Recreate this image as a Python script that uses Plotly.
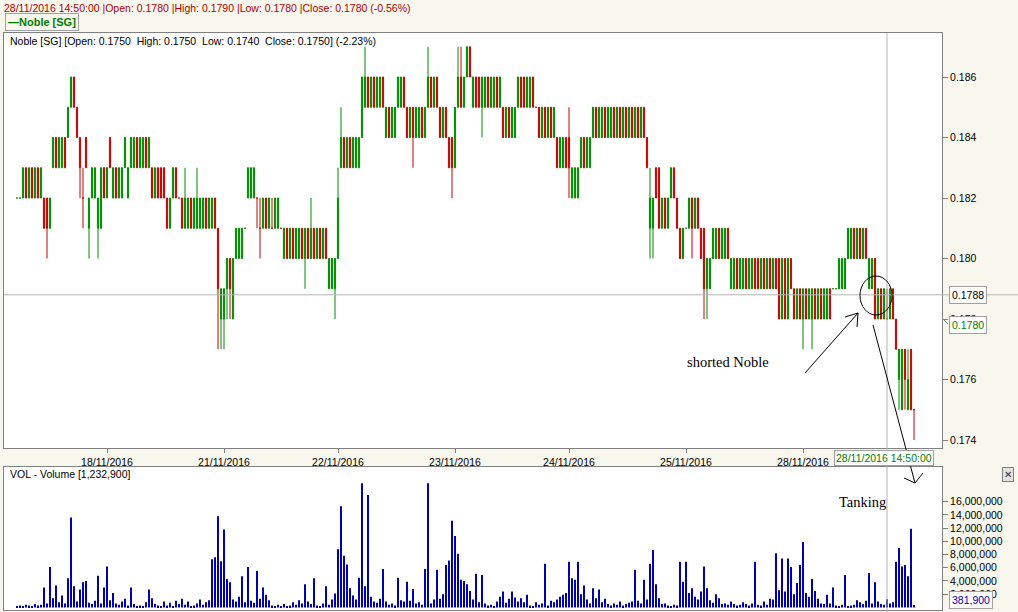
import plotly.graph_objects as go

# ---------------- data (prices in thousandths of SGD, volume in millions) ----------------
open_m = [
182,182,182,183,182,183,182,183,182,182, 182,181,183,184,183,183,184,184,185,186,
185,184,182,184,181,182,182,181,181,183, 182,184,182,183,182,182,183,182,183,183,
184,183,183,184,183,183,182,183,183,183, 182,181,182,183,182,182,181,181,182,181,
181,181,181,182,181,181,182,181,178,178, 179,180,178,180,180,180,181,182,182,182,
182,181,181,182,181,181,181,181,181,180, 181,180,181,180,180,181,180,181,180,181,
180,181,180,181,179,179,179,180,183,184, 183,184,183,183,183,184,185,186,185,186,
185,185,186,184,185,184,184,185,185,186, 185,184,185,184,184,185,184,185,186,185,
186,185,184,185,184,184,183,185,186,185, 186,187,185,186,186,185,185,186,185,185,
186,185,185,184,185,184,184,185,186,186, 185,185,186,185,185,184,185,184,185,184,
184,183,183,184,184,182,182,182,183,184, 183,183,184,185,184,184,185,184,184,185,
184,185,184,185,184,185,184,185,184,185, 184,181,181,183,183,181,182,181,182,183,
182,181,180,181,181,182,181,182,181,181, 179,179,180,180,181,180,180,181,179,179,
180,179,179,180,179,179,180,180,179,180, 179,180,179,180,180,178,180,178,180,179,
178,179,178,179,178,178,179,178,179,178, 178,179,179,179,179,179,179,180,180,181,
180,181,180,181,179,179,180,178,179,178, 178,178,179,178,176,175,177,175,177,175,
]
high_m = [
182,182,183,183,183,183,183,183,183,182, 182,182,184,184,184,184,184,185,186,186,
185,184,183,184,182,183,183,182,183,183, 183,184,183,183,183,183,184,183,184,184,
184,184,184,184,184,183,183,183,183,183, 182,182,183,183,182,182,183,182,182,182,
183,182,182,182,182,182,182,181,179,179, 180,180,180,181,181,181,181,183,183,183,
182,182,182,182,182,182,182,182,181,181, 181,181,181,181,181,181,181,181,182,181,
181,181,181,181,180,180,180,183,185,184, 184,184,184,184,184,186,187,186,186,186,
186,186,186,185,185,185,185,186,186,186, 185,185,185,185,185,185,185,187,186,186,
186,185,185,185,184,184,185,187,187,186, 187,187,186,186,186,186,186,186,186,186,
186,186,185,185,185,185,185,186,186,186, 186,186,186,185,185,185,185,185,185,185,
184,184,184,184,185,183,183,183,184,184, 184,184,185,185,185,185,185,185,185,185,
185,185,185,185,185,185,185,185,185,185, 184,183,182,183,183,182,182,182,183,183,
182,181,181,181,182,182,182,182,181,181, 180,180,181,181,181,181,181,181,180,180,
180,180,180,180,180,180,180,180,180,180, 180,180,180,180,180,180,180,180,180,179,
179,179,179,179,179,179,179,179,179,179, 179,179,179,179,180,180,180,181,181,181,
181,181,181,181,180,180,180,179,179,179, 179,179,179,178,177,177,177,177,177,175,
]
low_m = [
182,182,182,182,182,182,182,182,182,181, 180,181,183,183,183,183,183,184,185,185,
184,182,181,183,180,182,182,180,181,182, 182,183,182,182,182,182,183,182,183,183,
183,183,183,183,183,182,182,182,182,182, 181,181,182,182,182,181,181,181,181,181,
181,181,181,181,181,181,181,177,177,177, 178,178,178,180,180,180,181,182,182,182,
181,180,181,181,181,181,181,181,181,180, 180,180,180,180,180,180,179,180,180,180,
180,180,180,180,179,179,178,180,183,183, 183,183,183,183,183,184,185,185,185,185,
185,185,185,184,184,184,184,185,185,185, 184,184,183,184,184,184,184,185,185,185,
185,184,184,184,183,182,183,185,185,185, 186,186,185,185,185,184,185,185,185,185,
185,185,184,184,184,184,184,185,185,185, 185,185,185,185,184,184,184,184,184,184,
183,183,183,183,182,182,182,182,183,183, 183,183,184,184,184,184,184,184,184,184,
184,184,184,184,184,184,184,184,184,184, 183,180,180,182,181,181,181,181,182,182,
181,180,180,181,181,180,181,181,180,178, 178,179,180,180,180,180,180,180,179,179,
179,179,179,179,179,179,179,179,179,179, 179,179,179,179,178,178,178,178,179,178,
178,178,177,178,178,177,178,178,178,178, 178,178,179,179,179,179,179,180,180,180,
180,180,180,180,179,179,178,178,178,178, 178,178,178,177,175,175,175,175,175,174,
]
close_m = [
182,182,183,182,183,182,183,182,183,181, 181,182,184,183,184,184,183,185,186,185,
184,183,182,183,182,183,183,182,183,182, 183,183,183,182,183,183,184,183,184,184,
183,184,184,183,184,182,183,182,182,182, 181,182,183,182,182,181,182,182,181,182,
182,182,182,181,182,182,181,179,179,179, 180,179,180,181,181,181,181,183,183,183,
182,181,182,181,182,181,182,182,181,181, 180,181,180,181,181,180,181,180,181,180,
181,180,181,180,180,180,180,182,184,183, 184,183,184,184,184,186,186,185,186,185,
186,186,185,185,184,185,185,186,186,185, 184,185,184,185,185,184,185,186,185,186,
185,184,185,184,183,183,185,186,185,186, 187,186,186,185,185,186,186,185,186,186,
185,186,184,185,184,185,185,186,185,185, 186,186,185,185,184,185,184,185,184,185,
183,184,184,183,183,183,183,183,184,183, 184,184,185,184,185,185,184,185,185,184,
185,184,185,184,185,184,185,184,185,184, 183,182,182,182,181,182,181,182,183,182,
181,180,181,181,182,181,182,181,180,179, 180,180,181,181,180,181,181,180,180,180,
179,180,180,179,180,180,179,179,180,179, 180,179,180,179,178,180,178,180,179,178,
179,178,179,178,179,179,178,179,178,179, 179,178,179,179,180,180,180,181,181,180,
181,180,181,180,180,180,178,179,178,179, 178,179,178,177,177,177,176,176,175,175,
]
volume_mln = [
0.2, 0.3, 0.2, 0.4, 0.3, 0.2, 0.5, 0.3, 0.4, 3.0,
0.6, 6.1, 1.4, 3.3, 0.8, 1.8, 0.6, 4.4, 13.6, 3.2,
0.9, 2.7, 3.8, 4.0, 0.7, 0.5, 1.0, 4.8, 0.6, 3.0,
6.2, 1.1, 2.2, 0.6, 0.4, 0.9, 1.3, 0.3, 3.0, 0.5,
0.2, 0.3, 0.2, 0.8, 2.7, 1.4, 0.5, 0.3, 0.2, 0.9,
0.3, 0.7, 0.2, 1.0, 0.5, 1.3, 0.4, 0.9, 0.2, 0.3,
0.6, 1.2, 0.4, 0.8, 1.1, 7.3, 7.6, 13.8, 7.0, 11.8,
4.3, 3.8, 1.2, 0.9, 1.6, 4.7, 0.8, 6.1, 1.0, 0.7,
5.5, 1.3, 3.0, 1.9, 1.1, 0.3, 0.2, 0.4, 0.2, 0.5,
0.2, 0.3, 0.8, 0.4, 1.1, 0.6, 3.5, 0.9, 0.5, 4.4,
0.3, 0.2, 0.6, 3.2, 0.4, 1.2, 2.1, 8.8, 15.3, 7.8,
6.5, 2.9, 1.8, 1.2, 4.5, 18.8, 3.2, 17.0, 1.6, 0.9,
0.7, 1.3, 5.8, 0.9, 0.4, 0.6, 0.3, 4.5, 1.1, 0.9,
3.9, 1.0, 2.8, 0.6, 0.8, 0.4, 5.8, 18.8, 0.6, 1.2,
5.7, 1.3, 2.0, 6.4, 7.1, 13.1, 10.8, 8.1, 4.2, 4.0,
3.5, 2.5, 1.2, 5.1, 0.8, 4.9, 0.6, 0.3, 0.4, 0.2,
0.9, 1.6, 2.4, 0.7, 1.3, 2.4, 1.5, 0.9, 1.4, 0.8,
1.9, 0.3, 0.2, 0.8, 0.4, 0.6, 6.6, 0.3, 1.0, 0.8,
1.2, 1.6, 1.9, 2.2, 6.9, 4.4, 4.2, 6.9, 2.0, 3.3,
1.2, 0.6, 2.9, 1.4, 2.7, 0.8, 1.3, 0.5, 0.3, 0.6,
0.4, 0.9, 0.3, 0.5, 0.7, 0.9, 5.7, 1.0, 0.6, 4.2,
1.2, 6.6, 8.7, 3.5, 1.4, 0.5, 0.6, 0.3, 0.2, 0.4,
0.3, 6.9, 3.9, 6.9, 2.2, 2.9, 1.6, 1.2, 2.4, 6.2,
2.9, 1.1, 0.7, 2.0, 1.4, 0.5, 0.6, 0.4, 0.9, 0.5,
0.3, 0.4, 0.8, 0.5, 0.3, 0.6, 6.9, 0.4, 0.3, 0.9,
0.4, 1.3, 1.2, 8.2, 2.6, 7.4, 2.4, 7.4, 6.1, 2.0,
3.7, 6.4, 9.9, 2.2, 1.6, 4.3, 2.5, 1.3, 0.6, 0.5,
1.9, 0.6, 3.0, 0.3, 0.2, 0.4, 4.9, 0.2, 0.3, 0.4,
1.1, 0.8, 0.5, 1.0, 5.2, 0.6, 3.8, 0.9, 0.5, 0.4,
1.2329, 0.6, 0.8, 6.9, 9.0, 6.2, 6.4, 4.7, 11.9, 0.3819,
]
day_tick_bars = [30, 69, 107, 146, 184, 223, 262]
day_labels = ["18/11/2016", "21/11/2016", "22/11/2016", "23/11/2016",
              "24/11/2016", "25/11/2016", "28/11/2016"]
price_ticks = [0.174, 0.176, 0.178, 0.180, 0.182, 0.184, 0.186]
volume_ticks = [2e6, 4e6, 6e6, 8e6, 10e6, 12e6, 14e6, 16e6]
cursor_bar = 290
cursor_price = 0.1788
last_price = 0.1780
last_volume = 381900

# ---------------- figure ----------------
W, H = 1018, 612
def px(x):
    return x / W
def py(y):
    return 1 - y / H

bars = list(range(len(open_m)))
FONT = "Liberation Sans, Arial, sans-serif"
GRID = "#808080"

fig = go.Figure()
fig.add_trace(go.Candlestick(
    x=bars,
    open=[v / 1000 for v in open_m], high=[v / 1000 for v in high_m],
    low=[v / 1000 for v in low_m], close=[v / 1000 for v in close_m],
    increasing=dict(line=dict(color="#008C00", width=1), fillcolor="#00A800"),
    decreasing=dict(line=dict(color="#C80000", width=1), fillcolor="#8A4A08"),
    whiskerwidth=0, xaxis="x", yaxis="y", hoverinfo="skip", showlegend=False,
))
fig.add_trace(go.Bar(
    x=bars, y=[v * 1e6 for v in volume_mln], width=0.5,
    marker=dict(color="#0000B4", line=dict(width=0)),
    xaxis="x2", yaxis="y2", hoverinfo="skip", showlegend=False,
))

xrange_ = [-13 / 3, 925 / 3]
axis_common = dict(showgrid=False, zeroline=False, showline=True, linecolor=GRID,
                   linewidth=1, mirror=True, automargin=False)
fig.update_layout(
    width=W, height=H, margin=dict(l=0, r=0, t=0, b=0),
    paper_bgcolor="#F8F7EE", plot_bgcolor="white", showlegend=False,
    font=dict(family=FONT, size=10.5, color="black"), boxgap=0.45,
    xaxis=dict(domain=[px(4), px(942)], range=xrange_, anchor="y",
               tickvals=day_tick_bars, ticktext=day_labels, ticks="outside",
               ticklen=4, tickcolor=GRID, rangeslider=dict(visible=False),
               tickfont=dict(family=FONT, size=10.5, color="black"), **axis_common),
    yaxis=dict(domain=[py(448), py(33)], range=[0.173736, 0.187455], anchor="x",
               side="right", tickvals=price_ticks, tickformat=".3f", ticks="outside",
               ticklen=5, tickcolor=GRID,
               tickfont=dict(family=FONT, size=10.5, color="black"), **axis_common),
    xaxis2=dict(domain=[px(4), px(942)], range=xrange_, anchor="y2",
                showticklabels=False, ticks="", **axis_common),
    yaxis2=dict(domain=[py(610), py(467)], range=[-0.39e6, 21.24e6], anchor="x2",
                side="right", tickvals=volume_ticks, tickformat=",d", ticks="outside",
                ticklen=5, tickcolor=GRID,
                tickfont=dict(family=FONT, size=10.5, color="black"), **axis_common),
)

# crosshair
fig.add_shape(type="line", xref="x", yref="paper", x0=cursor_bar, x1=cursor_bar,
              y0=0, y1=py(33), line=dict(color="#B4B4B4", width=1), layer="above")
fig.add_shape(type="line", xref="paper", yref="y", x0=px(4), x1=1,
              y0=cursor_price, y1=cursor_price, line=dict(color="#B4B4B4", width=1),
              layer="above")

# hand-drawn marks
ink = dict(color="black", width=1)
fig.add_shape(type="circle", xref="paper", yref="paper", x0=px(860), x1=px(892),
              y0=py(315), y1=py(276), line=ink)
for (xa, ya, xb, yb) in [(805, 373, 858, 313), (858, 313, 845, 317), (858, 313, 857, 327),
                         (873, 325, 915, 483), (915, 483, 904, 478), (915, 483, 923, 473)]:
    fig.add_shape(type="line", xref="paper", yref="paper", x0=px(xa), y0=py(ya),
                  x1=px(xb), y1=py(yb), line=ink)

def label(text, x, y, color="black", size=10.5, family=FONT, xanchor="left",
          border=None, bg=None, pad=1):
    fig.add_annotation(text=text, x=px(x), y=py(y), xref="paper", yref="paper",
                       xanchor=xanchor, yanchor="middle", showarrow=False,
                       font=dict(color=color, size=size, family=family),
                       bordercolor=border, borderwidth=1 if border else 0,
                       borderpad=pad, bgcolor=bg)

NB = "\u00a0"
label("28/11/2016 14:50:00 |Open: 0.1780 |High: 0.1790 |Low: 0.1780 |Close: 0.1780 (-0.56%)",
      3, 8, color="#B00000")
label("<b>\u2014Noble [SG]</b>", 5, 22.5, color="#007A00", size=11, border="#A0A0A0",
      bg="#F8F7EE", pad=2)
label(f"Noble [SG] [Open: 0.1750{NB}{NB}High: 0.1750{NB}{NB}Low: 0.1740{NB}{NB}Close: 0.1750] (-2.23%)",
      9, 41)
label("VOL - Volume [1,232,900]", 9, 474)
label(f"{cursor_price:.4f}", 949, 295, border="#A0A0A0", bg="white", pad=2)
label(f"{last_price:.4f}", 949, 325, color="#008000", border="#A0A0A0", bg="white", pad=2)
label("28/11/2016 14:50:00", 834, 458, color="#008000", border="#A0A0A0", bg="white", pad=1)
label(f"{last_volume:,}", 949, 600, color="#0000B4", border="#A0A0A0", bg="white", pad=2)
label("shorted Noble", 686, 362, size=14.5, family="Liberation Serif, Times New Roman, serif")
label("Tanking", 838, 502, size=14.5, family="Liberation Serif, Times New Roman, serif")
label("\u2715", 1002, 474, color="#303030", size=10, border="#808080", bg="#E4E4DC", pad=1)
fig.add_shape(type="line", xref="paper", yref="paper", x0=px(942), y0=py(318),
              x1=px(948), y1=py(324), line=dict(color="#808080", width=1))

fig.write_html("out.html", config={"displayModeBar": False},
               post_script="document.body.style.margin='0';document.body.style.overflow='hidden';")
